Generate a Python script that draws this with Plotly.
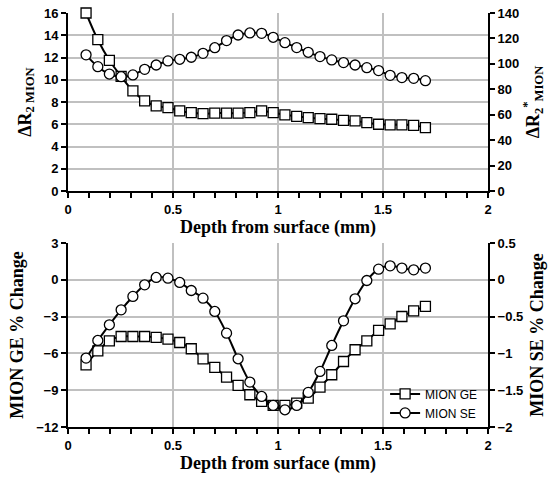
import plotly.graph_objects as go

# depth of each slice (mm), shared by both panels
depth = [0.086, 0.142, 0.197, 0.253, 0.309, 0.365, 0.420, 0.476, 0.532, 0.587,
         0.643, 0.699, 0.755, 0.810, 0.866, 0.922, 0.977, 1.033, 1.089, 1.144,
         1.200, 1.256, 1.312, 1.367, 1.423, 1.479, 1.534, 1.590, 1.646, 1.702]

# top panel
dr2_mion = [16.0, 13.6, 11.75, 10.3, 9.0, 8.1, 7.65, 7.5, 7.2, 7.05,
            6.95, 7.0, 7.0, 7.0, 7.05, 7.2, 7.05, 6.85, 6.7, 6.6,
            6.5, 6.45, 6.35, 6.3, 6.15, 6.0, 5.95, 5.95, 5.9, 5.7]
dr2star_mion = [107.1, 97.8, 92.0, 89.9, 91.3, 95.7, 99.1, 102.3, 103.6, 105.2,
                108.3, 112.7, 118.3, 122.7, 124.3, 124.0, 120.9, 116.7, 112.8, 109.1,
                105.7, 103.1, 101.0, 99.1, 97.0, 94.7, 91.0, 89.2, 88.6, 86.8]

# bottom panel
ge_change = [-6.93, -5.79, -4.97, -4.62, -4.62, -4.62, -4.70, -4.84, -5.11, -5.62,
             -6.44, -7.14, -7.93, -8.61, -9.37, -9.91, -10.24, -10.24, -10.05, -9.64,
             -8.75, -7.74, -6.66, -5.70, -4.97, -4.13, -3.59, -2.99, -2.53, -2.17]
se_change = [-1.064, -0.824, -0.611, -0.408, -0.226, -0.068, 0.032, 0.022, -0.036, -0.145,
             -0.249, -0.43, -0.725, -1.073, -1.39, -1.585, -1.707, -1.766, -1.707, -1.53,
             -1.245, -0.892, -0.557, -0.258, -0.009, 0.145, 0.19, 0.159, 0.136, 0.159]

LINE = dict(color="black", width=2, shape="spline")
SQUARE = dict(symbol="square", size=10, color="white", line=dict(color="black", width=1.3))
CIRCLE = dict(symbol="circle", size=10, color="white", line=dict(color="black", width=1.3))

TICKFONT = dict(family="Liberation Sans, Arial", size=13, color="black", weight="bold")
TITLEFONT = dict(family="Liberation Serif, Times New Roman", size=18, color="black", weight="bold")
GRID = "#c0c0c0"

fig = go.Figure()
fig.add_trace(go.Scatter(x=depth, y=dr2_mion, mode="lines+markers", line=LINE, marker=SQUARE,
                         xaxis="x", yaxis="y", showlegend=False, cliponaxis=False))
fig.add_trace(go.Scatter(x=depth, y=dr2star_mion, mode="lines+markers", line=LINE, marker=CIRCLE,
                         xaxis="x", yaxis="y2", showlegend=False, cliponaxis=False))
fig.add_trace(go.Scatter(x=depth, y=ge_change, mode="lines+markers", line=LINE, marker=SQUARE,
                         xaxis="x2", yaxis="y3", name="MION GE", cliponaxis=False))
fig.add_trace(go.Scatter(x=depth, y=se_change, mode="lines+markers", line=LINE, marker=CIRCLE,
                         xaxis="x2", yaxis="y4", name="MION SE", cliponaxis=False))


def xax(anchor):
    return dict(
        anchor=anchor, domain=[0, 1], range=[0, 2], dtick=0.5, tickformat="~g",
        showline=True, linecolor="black", linewidth=2, mirror=False, automargin=False,
        ticks="outside", ticklen=5, tickwidth=2, tickcolor="black",
        minor=dict(dtick=0.1, ticks="outside", ticklen=5, tickwidth=1.5, tickcolor="black", showgrid=False),
        showgrid=True, gridcolor=GRID, gridwidth=1.5, zeroline=False,
        tickfont=TICKFONT, ticklabelstandoff=0,
        title=dict(text="Depth from surface (mm)", font=TITLEFONT, standoff=0),
    )


def yax(domain, rng, dtick, title, side="left", overlay=None, anchor="x"):
    d = dict(
        domain=domain, range=rng, dtick=dtick, side=side, anchor=anchor, automargin=False,
        showline=True, linecolor="black", linewidth=2,
        ticks="outside", ticklen=5, tickwidth=2, tickcolor="black",
        zeroline=False, tickfont=TICKFONT,
        title=dict(text=title, font=TITLEFONT, standoff=8),
    )
    if overlay:
        d.update(overlaying=overlay, showgrid=False)
    else:
        d.update(showgrid=True, gridcolor=GRID, gridwidth=1.5)
    return d


TOP = [0.570, 1.0]
BOT = [0.0, 0.4444]

fig.update_layout(
    width=557, height=479,
    margin=dict(l=68, r=69, t=13, b=52),
    plot_bgcolor="white", paper_bgcolor="white",
    xaxis=xax("y"),
    xaxis2=xax("y3"),
    yaxis=yax(TOP, [0, 16], 2, "ΔR<sub>2 MION</sub>"),
    yaxis2=yax(TOP, [0, 140], 20, "ΔR<sub>2</sub><sup>*</sup><sub>MION</sub>",
               side="right", overlay="y"),
    yaxis3=yax(BOT, [-12, 3], 3, "MION GE % Change", anchor="x2"),
    yaxis4=yax(BOT, [-2, 0.5], 0.5, "MION SE % Change", side="right", overlay="y3", anchor="x2"),
    legend=dict(x=0.755, y=0.115, xanchor="left", yanchor="top",
                bgcolor="rgba(0,0,0,0)", tracegroupgap=0,
                font=dict(family="Liberation Sans, Arial", size=12, color="black")),
)

# drop the browser's default 8px body margin so the figure fills the window
fig.write_html("out.html", config={"displayModeBar": False},
               post_script="document.body.style.margin='0';")
